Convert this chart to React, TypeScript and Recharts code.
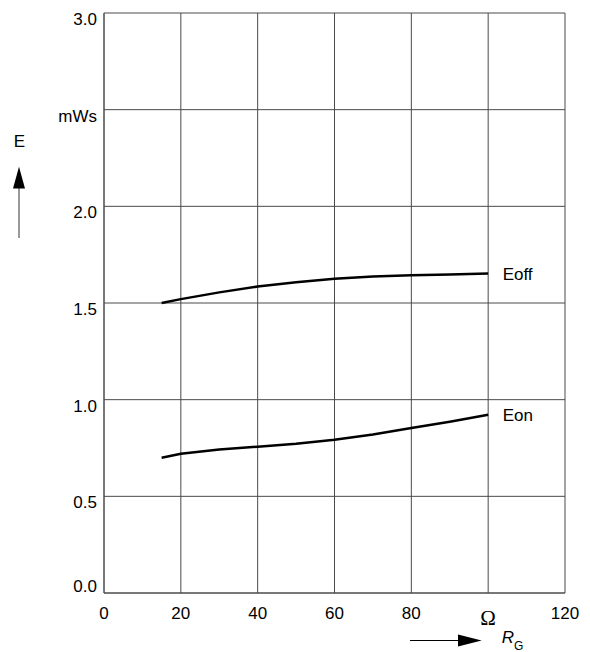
import React from "react";
import { LineChart, Line, XAxis, YAxis, CartesianGrid } from "recharts";

// Gate resistance R_G in ohms
const rgOff = [15, 20, 30, 40, 50, 60, 70, 80, 90, 100];
const eoffValues = [1.5, 1.52, 1.555, 1.585, 1.607, 1.625, 1.637, 1.644, 1.648, 1.652];

const rgOn = [15, 20, 30, 40, 50, 60, 70, 80, 90, 100];
const eonValues = [0.7, 0.72, 0.742, 0.757, 0.772, 0.793, 0.82, 0.853, 0.886, 0.922];

const xTicks = [0, 20, 40, 60, 80, 100, 120];
const xTickLabels = ["0", "20", "40", "60", "80", "Ω", "120"];
const yTicks = [0, 0.5, 1.0, 1.5, 2.0, 2.5, 3.0];
const yTickLabels = ["0.0", "0.5", "1.0", "1.5", "2.0", "mWs", "3.0"];

const eoffData = rgOff.map((rg, i) => ({ rg, e: eoffValues[i] }));
const eonData = rgOn.map((rg, i) => ({ rg, e: eonValues[i] }));

const FONT = "'Liberation Sans', Arial, sans-serif";
const SERIF = "'Liberation Serif', 'Times New Roman', serif";
const GRID = "#4a4a4a";

const W = 582;
const H = 644;

const YTick = (props: any) => {
  const { x, y, payload } = props;
  const idx = yTicks.indexOf(payload.value);
  const label = idx >= 0 ? yTickLabels[idx] : String(payload.value);
  const dy = payload.value === 0 ? -1 : 12;
  return (
    <text x={x} y={y + dy} textAnchor="end" fontSize={17} fontFamily={FONT} fill="#000">
      {label}
    </text>
  );
};

const XTick = (props: any) => {
  const { x, y, payload } = props;
  const idx = xTicks.indexOf(payload.value);
  const label = idx >= 0 ? xTickLabels[idx] : String(payload.value);
  if (label === "Ω") {
    // unit symbol sits in place of the 100 label
    return (
      <text x={x} y={y + 32} textAnchor="middle" fontSize={21} fontFamily={SERIF} fill="#000">
        {label}
      </text>
    );
  }
  return (
    <text x={x} y={y + 26} textAnchor="middle" fontSize={17} fontFamily={FONT} fill="#000">
      {label}
    </text>
  );
};

const endLabel = (name: string, count: number) => (props: any) => {
  const { x, y, index } = props;
  if (index !== count - 1) return null;
  return (
    <text key={name} x={x + 14.5} y={y + 6.5} fontSize={17} fontFamily={FONT} fill="#000">
      {name}
    </text>
  );
};

export default function App() {
  return (
    <div style={{ position: "relative", width: W, height: H }}>
      <LineChart width={W} height={H} margin={{ top: 5, right: 25, bottom: 29, left: 36 }}>
        <CartesianGrid stroke={GRID} strokeWidth={1} />
        <XAxis
          dataKey="rg"
          type="number"
          domain={[0, 120]}
          ticks={xTicks}
          height={30}
          tickLine={false}
          tickSize={0}
          tickMargin={0}
          axisLine={{ stroke: GRID }}
          tick={<XTick />}
          interval={0}
          allowDataOverflow
        />
        <YAxis
          dataKey="e"
          type="number"
          domain={[0, 3]}
          ticks={yTicks}
          width={60}
          tickLine={false}
          tickSize={0}
          tickMargin={7}
          axisLine={{ stroke: GRID }}
          tick={<YTick />}
          interval={0}
          allowDataOverflow
        />
        <Line
          data={eoffData}
          dataKey="e"
          type="linear"
          stroke="#000"
          strokeWidth={2.5}
          dot={false}
          isAnimationActive={false}
          label={endLabel("Eoff", eoffData.length)}
        />
        <Line
          data={eonData}
          dataKey="e"
          type="linear"
          stroke="#000"
          strokeWidth={2.5}
          dot={false}
          isAnimationActive={false}
          label={endLabel("Eon", eonData.length)}
        />
      </LineChart>
      <svg
        width={W}
        height={H}
        style={{ position: "absolute", left: 0, top: 0, pointerEvents: "none", overflow: "visible" }}
      >
        {/* vertical axis name with upward arrow */}
        <text x={11.5} y={138.7} textAnchor="middle" fontSize={17} fontFamily={FONT} fill="#000">
          E
        </text>
        <line x1={11} y1={178} x2={11} y2={230} stroke="#555" strokeWidth={1.2} />
        <polygon points="5,180.5 11,158.7 17,180.5" fill="#000" />
        {/* horizontal axis name with right arrow */}
        <line x1={402} y1={632.5} x2={452} y2={632.5} stroke="#000" strokeWidth={1.2} />
        <polygon points="450,626.5 473.7,632.5 450,638.5" fill="#000" />
        <text x={493.7} y={634.5} fontSize={17} fontStyle="italic" fontFamily={FONT} fill="#000">
          R
        </text>
        <text x={506} y={641.5} fontSize={12} fontFamily={FONT} fill="#000">
          G
        </text>
      </svg>
    </div>
  );
}
